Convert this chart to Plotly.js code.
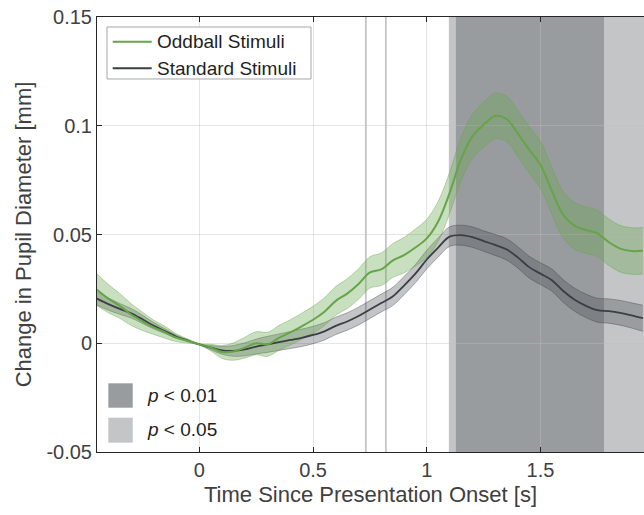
<!DOCTYPE html>
<html>
<head>
<meta charset="utf-8">
<script src="https://cdn.plot.ly/plotly-3.0.1.min.js"></script>
<style>html,body{margin:0;padding:0;background:#fff;}#chart{width:644px;height:515px;}</style>
</head>
<body>
<div id="chart"></div>
<script>
// Time axis [s]
var time = [-0.45,-0.40,-0.35,-0.30,-0.25,-0.20,-0.15,-0.10,-0.05,0.00,
            0.05,0.10,0.15,0.20,0.25,0.30,0.35,0.40,0.45,0.50,
            0.55,0.60,0.65,0.70,0.75,0.80,0.85,0.90,0.95,1.00,
            1.05,1.10,1.15,1.20,1.25,1.30,1.35,1.40,1.45,1.50,
            1.55,1.60,1.65,1.70,1.75,1.80,1.85,1.90,1.95];

// Oddball stimuli: mean and confidence band
var oddMean = [0.0246,0.0205,0.0172,0.0132,0.0101,0.0073,0.0050,0.0025,0.0010,-0.0005,
               -0.0020,-0.0040,-0.0038,-0.0020,0.0000,-0.0005,0.0025,0.0050,0.0078,0.0108,
               0.0145,0.0195,0.0228,0.0272,0.0326,0.0340,0.0380,0.0405,0.0440,0.0482,
               0.0560,0.0690,0.0845,0.0950,0.1005,0.1045,0.1032,0.0965,0.0890,0.0820,
               0.0700,0.0590,0.0540,0.0520,0.0505,0.0465,0.0435,0.0424,0.0425];
var oddUpper = [0.0319,0.0270,0.0229,0.0182,0.0143,0.0106,0.0077,0.0043,0.0019,-0.0002,
                -0.0005,-0.0010,0.0002,0.0028,0.0053,0.0050,0.0082,0.0108,0.0138,0.0170,
                0.0209,0.0261,0.0296,0.0342,0.0398,0.0415,0.0458,0.0486,0.0525,0.0570,
                0.0652,0.0785,0.0945,0.1052,0.1109,0.1150,0.1137,0.1071,0.0997,0.0928,
                0.0808,0.0698,0.0648,0.0627,0.0612,0.0572,0.0542,0.0531,0.0532];
var oddLower = [0.0173,0.0140,0.0115,0.0082,0.0059,0.0040,0.0023,0.0007,0.0001,-0.0008,
                -0.0035,-0.0070,-0.0078,-0.0068,-0.0053,-0.0060,-0.0032,-0.0008,0.0018,0.0046,
                0.0081,0.0129,0.0160,0.0202,0.0254,0.0265,0.0302,0.0324,0.0355,0.0394,
                0.0468,0.0595,0.0745,0.0848,0.0901,0.0940,0.0927,0.0859,0.0783,0.0712,
                0.0592,0.0482,0.0432,0.0413,0.0398,0.0358,0.0328,0.0317,0.0318];

// Standard stimuli: mean and confidence band
var stdMean = [0.0205,0.0180,0.0158,0.0138,0.0110,0.0080,0.0055,0.0030,0.0012,-0.0005,
               -0.0020,-0.0033,-0.0035,-0.0028,-0.0015,-0.0005,0.0005,0.0015,0.0025,0.0038,
               0.0055,0.0080,0.0100,0.0125,0.0155,0.0185,0.0215,0.0265,0.0320,0.0385,
               0.0440,0.0490,0.0497,0.0488,0.0470,0.0452,0.0432,0.0395,0.0350,0.0320,
               0.0290,0.0240,0.0200,0.0172,0.0152,0.0148,0.0140,0.0128,0.0115];
var stdUpper = [0.0235,0.0208,0.0183,0.0160,0.0129,0.0095,0.0066,0.0037,0.0016,-0.0003,
                -0.0010,-0.0015,-0.0010,0.0002,0.0019,0.0032,0.0043,0.0054,0.0065,0.0078,
                0.0095,0.0120,0.0140,0.0166,0.0196,0.0226,0.0257,0.0307,0.0362,0.0428,
                0.0484,0.0535,0.0543,0.0535,0.0517,0.0500,0.0481,0.0444,0.0400,0.0370,
                0.0341,0.0292,0.0253,0.0226,0.0207,0.0204,0.0197,0.0186,0.0175];
var stdLower = [0.0175,0.0152,0.0133,0.0116,0.0091,0.0065,0.0044,0.0023,0.0008,-0.0007,
                -0.0030,-0.0051,-0.0060,-0.0058,-0.0049,-0.0042,-0.0033,-0.0024,-0.0015,-0.0002,
                0.0015,0.0040,0.0060,0.0084,0.0114,0.0144,0.0173,0.0223,0.0278,0.0342,
                0.0396,0.0445,0.0451,0.0441,0.0423,0.0404,0.0383,0.0346,0.0300,0.0270,
                0.0239,0.0188,0.0147,0.0118,0.0097,0.0092,0.0083,0.0070,0.0055];

// Significance intervals [start, end] in seconds
var sig05Start = [0.728, 0.816, 1.097];
var sig05End   = [0.736, 0.824, 1.960];
var sig01Start = [1.128];
var sig01End   = [1.779];

// Tick labels
var xTickVals = [0, 0.5, 1, 1.5];
var xTickText = ['0', '0.5', '1', '1.5'];
var yTickVals = [-0.05, 0, 0.05, 0.1, 0.15];
var yTickText = ['-0.05', '0', '0.05', '0.1', '0.15'];

// Legend labels
var seriesNames = ['Oddball Stimuli', 'Standard Stimuli'];
var sigNames = ['<i>p</i> < 0.01', '<i>p</i> < 0.05'];

var GREEN = '#66a44a';
var DARK = '#3b3e43';
var SIG01 = '#999c9f';
var SIG05 = '#c4c5c7';
var TXT = '#2b2b2b';

var traces = [
  {x: time, y: stdLower, type: 'scatter', mode: 'lines', line: {color: 'rgba(55,58,64,0.55)', width: 0.7, shape: 'spline'}, showlegend: false, hoverinfo: 'skip'},
  {x: time, y: stdUpper, type: 'scatter', mode: 'lines', fill: 'tonexty', fillcolor: 'rgba(70,75,82,0.33)', line: {color: 'rgba(55,58,64,0.55)', width: 0.7, shape: 'spline'}, showlegend: false, hoverinfo: 'skip'},
  {x: time, y: oddLower, type: 'scatter', mode: 'lines', line: {color: 'rgba(102,164,74,0.6)', width: 0.7, shape: 'spline'}, showlegend: false, hoverinfo: 'skip'},
  {x: time, y: oddUpper, type: 'scatter', mode: 'lines', fill: 'tonexty', fillcolor: 'rgba(106,168,79,0.36)', line: {color: 'rgba(102,164,74,0.6)', width: 0.7, shape: 'spline'}, showlegend: false, hoverinfo: 'skip'},
  {x: time, y: stdMean, type: 'scatter', mode: 'lines', name: seriesNames[1], line: {color: DARK, width: 1.8, shape: 'spline'}, showlegend: false},
  {x: time, y: oddMean, type: 'scatter', mode: 'lines', name: seriesNames[0], line: {color: GREEN, width: 2, shape: 'spline'}, showlegend: false}
];

var shapes = [];
for (var i = 0; i < sig05Start.length; i++) {
  shapes.push({type: 'rect', xref: 'x', yref: 'paper', x0: sig05Start[i], x1: sig05End[i], y0: 0, y1: 1, fillcolor: SIG05, line: {width: 0}, layer: 'below'});
}
for (var j = 0; j < sig01Start.length; j++) {
  shapes.push({type: 'rect', xref: 'x', yref: 'paper', x0: sig01Start[j], x1: sig01End[j], y0: 0, y1: 1, fillcolor: SIG01, line: {width: 0}, layer: 'below'});
}
// Series legend box
shapes.push({type: 'rect', xref: 'paper', yref: 'paper', x0: 0.0183, x1: 0.3912, y0: 0.8575, y1: 0.977, fillcolor: '#ffffff', line: {color: '#a6a6a6', width: 1}, layer: 'above'});
shapes.push({type: 'line', xref: 'paper', yref: 'paper', x0: 0.0287, x1: 0.1000, y0: 0.9432, y1: 0.9432, line: {color: GREEN, width: 2}, layer: 'above'});
shapes.push({type: 'line', xref: 'paper', yref: 'paper', x0: 0.0287, x1: 0.1000, y0: 0.8821, y1: 0.8821, line: {color: DARK, width: 2}, layer: 'above'});
// Significance legend patches
shapes.push({type: 'rect', xref: 'paper', yref: 'paper', x0: 0.0207, x1: 0.0653, y0: 0.1018, y1: 0.1579, fillcolor: SIG01, line: {width: 0}, layer: 'above'});
shapes.push({type: 'rect', xref: 'paper', yref: 'paper', x0: 0.0207, x1: 0.0653, y0: 0.0214, y1: 0.0789, fillcolor: SIG05, line: {width: 0}, layer: 'above'});

var legFont = {family: 'Liberation Sans, Arial, Helvetica, sans-serif', size: 19, color: '#1f1f1f'};
var annotations = [
  {xref: 'paper', yref: 'paper', x: 0.1069, y: 0.9432, xanchor: 'left', yanchor: 'middle', text: seriesNames[0], showarrow: false, font: legFont},
  {xref: 'paper', yref: 'paper', x: 0.1069, y: 0.8821, xanchor: 'left', yanchor: 'middle', text: seriesNames[1], showarrow: false, font: legFont},
  {xref: 'paper', yref: 'paper', x: 0.0878, y: 0.1299, xanchor: 'left', yanchor: 'middle', text: sigNames[0], showarrow: false, font: legFont},
  {xref: 'paper', yref: 'paper', x: 0.0878, y: 0.0506, xanchor: 'left', yanchor: 'middle', text: sigNames[1], showarrow: false, font: legFont}
];

var layout = {
  width: 644, height: 515,
  margin: {l: 97, r: 0, t: 17, b: 63, pad: 0},
  paper_bgcolor: '#ffffff', plot_bgcolor: '#ffffff',
  font: {family: 'Liberation Sans, Arial, Helvetica, sans-serif', color: TXT},
  showlegend: false,
  xaxis: {
    range: [-0.45, 1.955], tickmode: 'array', tickvals: xTickVals, ticktext: xTickText,
    showgrid: true, gridcolor: 'rgba(190,190,190,0.4)', gridwidth: 1, zeroline: false,
    showline: true, linecolor: '#262626', linewidth: 1, mirror: 'ticks',
    ticks: 'inside', ticklen: 5, tickcolor: '#262626', tickwidth: 1,
    tickfont: {size: 20, color: '#404040'},
    title: {text: 'Time Since Presentation Onset [s]', font: {size: 22, color: '#404040'}, standoff: 6}
  },
  yaxis: {
    range: [-0.05, 0.15], tickmode: 'array', tickvals: yTickVals, ticktext: yTickText,
    showgrid: true, gridcolor: 'rgba(190,190,190,0.4)', gridwidth: 1, zeroline: false,
    showline: true, linecolor: '#262626', linewidth: 1, mirror: false,
    ticks: 'inside', ticklen: 5, tickcolor: '#262626', tickwidth: 1,
    tickfont: {size: 20, color: '#404040'},
    title: {text: 'Change in Pupil Diameter [mm]', font: {size: 22, color: '#404040'}, standoff: 8}
  },
  shapes: shapes,
  annotations: annotations
};

Plotly.newPlot('chart', traces, layout, {staticPlot: true, displayModeBar: false});
</script>
</body>
</html>
